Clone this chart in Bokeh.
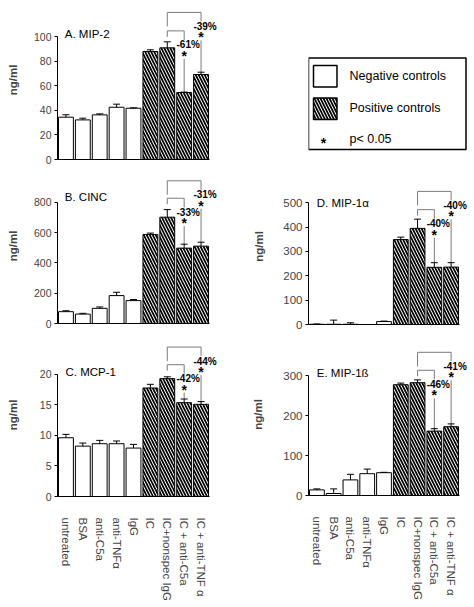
import numpy as np
from bokeh.plotting import figure
from bokeh.models import (Range1d, FixedTicker, Whisker, TeeHead, Label,
                          LabelSet, ColumnDataSource)
from bokeh.layouts import row, column
from bokeh.embed import file_html
from bokeh.resources import INLINE
from bokeh.core.properties import value

# ---------------- data ----------------
categories = ["untreated", "BSA", "anti-C5a", "anti-TNFα", "IgG", "IC",
              "IC+nonspec IgG", "IC + anti-C5a", "IC + anti-TNF α"]
positive = [False, False, False, False, False, True, True, True, True]

mip2 = [34.4, 32.2, 36.3, 42.5, 41.7, 87.8, 90.8, 54.5, 69.1]
mip2_err = [2.0, 1.4, 0.8, 2.5, 0.3, 1.4, 4.9, 0.3, 1.9]
mip2_pct = ["-61%", "-39%"]
mip2_brackets = [104.6, 119.6]

cinc = [78, 62, 100, 184, 151, 587, 701, 497, 510]
cinc_err = [6, 5, 9, 22, 7, 9, 50, 26, 26]
cinc_pct = ["-33%", "-31%"]
cinc_brackets = [826, 941]

mcp1 = [9.63, 8.26, 8.65, 8.65, 7.94, 17.79, 19.32, 15.38, 15.11]
mcp1_err = [0.55, 0.5, 0.55, 0.45, 0.6, 0.6, 0.3, 0.6, 0.45]
mcp1_pct = ["-42%", "-44%"]
mcp1_brackets = [21.6, 24.5]

mip1a = [1, 1, 1, 0, 12, 349, 395, 235, 236]
mip1a_err = [1, 17, 6, 0, 2, 10, 38, 19, 18]
mip1a_pct = ["-40%", "-40%"]
mip1a_brackets = [472, 547]

mip1b = [14, 5, 39, 54.5, 57, 277, 282, 161, 172]
mip1b_err = [2.5, 11.5, 14, 11.5, 1, 4, 7, 6, 7]
mip1b_pct = ["-46%", "-41%"]
mip1b_brackets = [313, 358]

legend_labels = ["Negative controls", "Positive controls", "p< 0.05"]

FONT = "Liberation Sans"
HATCH = dict(hatch_pattern="left_diagonal_line", hatch_color="black",
             hatch_scale=6, hatch_weight=1.7)


def make_panel(title, vals, errs, pcts, brackets, tick_max, tick_step, y_end,
               width, height, left, bars_w, bottom, show_x, tick_font,
               al_standoff, title_dx, title_dy):
    n = len(categories)
    x = np.arange(1, n + 1)
    frame_h = height - bottom
    frame_w = width - left
    pitch = bars_w / n
    x_end = 0.5 + frame_w / pitch
    k = y_end / frame_h          # data units per pixel
    p = figure(width=width, height=height, x_range=Range1d(0.5, x_end),
               y_range=Range1d(0, y_end), output_backend="svg",
               toolbar_location=None, min_border_left=left,
               min_border_right=0, min_border_top=0,
               min_border_bottom=bottom)
    p.outline_line_color = None
    p.grid.visible = False
    p.background_fill_color = "white"
    p.border_fill_color = "white"

    vals = np.array(vals, dtype=float)
    errs = np.array(errs, dtype=float)
    pos = np.array(positive)

    p.vbar(x=x[~pos], top=vals[~pos], width=0.88, bottom=0,
           fill_color="white", line_color="black", line_width=1)
    p.vbar(x=x[pos], top=vals[pos], width=0.88, bottom=0,
           fill_color="white", line_color="black", line_width=1, **HATCH)

    src = ColumnDataSource(dict(x=x, lower=vals, upper=vals + errs))
    w = Whisker(base="x", lower="lower", upper="upper", source=src,
                line_color="black", line_width=1, lower_head=None,
                upper_head=TeeHead(size=7, line_color="black", line_width=1))
    w.level = "overlay"
    p.add_layout(w)

    # significance brackets
    gray = "#7a7a7a"
    hs, hb = brackets
    p.line([x[6], x[6], x[7], x[7]], [hs - 6 * k, hs, hs, hs - 9 * k],
           line_color=gray, line_width=1)
    p.line([x[6], x[6], x[8], x[8]], [hb - 14 * k, hb, hb, hb - 9 * k],
           line_color=gray, line_width=1)
    tops = vals + errs
    p.segment(x0=[x[7], x[8]], y0=[hs - 28 * k, hb - 28 * k],
              x1=[x[7], x[8]], y1=[tops[7], tops[8]],
              line_color=gray, line_width=1)
    lsrc = ColumnDataSource(dict(x=[x[7], x[8]], y=[hs - 14 * k, hb - 14 * k],
                                 t=pcts))
    p.add_layout(LabelSet(x="x", y="y", text="t", source=lsrc, x_offset=4,
                          text_align="center", text_baseline="middle",
                          text_font=value(FONT), text_font_style="bold",
                          text_font_size="10px", text_color="black"))
    ssrc = ColumnDataSource(dict(x=[x[7], x[8]], y=[hs - 30 * k, hb - 30 * k],
                                 t=["*", "*"]))
    p.add_layout(LabelSet(x="x", y="y", text="t", source=ssrc,
                          text_align="center", text_baseline="alphabetic",
                          text_font=value(FONT), text_font_style="bold",
                          text_font_size="14px", text_color="black"))

    p.add_layout(Label(x=0.5 + title_dx / pitch, y=y_end - title_dy * k,
                       text=title, text_font=FONT, text_font_size="11.5px",
                       text_baseline="middle", text_align="left",
                       text_color="black"))

    # y axis
    yax = p.yaxis[0]
    yax.ticker = FixedTicker(ticks=list(np.arange(0, tick_max + 1e-9, tick_step)))
    yax.bounds = (0, tick_max)
    yax.axis_label = "ng/ml"
    yax.axis_label_text_font = FONT
    yax.axis_label_text_font_style = "bold"
    yax.axis_label_text_font_size = "11.5px"
    yax.axis_label_standoff = int(al_standoff)
    yax.major_label_text_font = FONT
    yax.major_label_text_font_size = tick_font
    yax.major_tick_out = 3
    yax.major_tick_in = 0
    yax.minor_tick_line_color = None
    yax.major_label_standoff = 3
    yax.axis_line_color = "black"

    xax = p.xaxis[0]
    xax.bounds = (0.5, n + 0.5)
    xax.major_tick_line_color = None
    xax.minor_tick_line_color = None
    xax.axis_line_color = "black"
    if show_x:
        xax.ticker = FixedTicker(ticks=list(x))
        xax.major_label_overrides = {int(i): c for i, c in zip(x, categories)}
        xax.major_label_orientation = "vertical"
        xax.major_label_text_font = FONT
        xax.major_label_text_font_size = "11.5px"
        xax.major_label_standoff = 15
    else:
        xax.ticker = FixedTicker(ticks=[])
        xax.major_label_standoff = 0
        xax.major_label_text_font_size = "1px"
    return p


LW, LL = 242, 57     # left column width / left border
RW, RL = 232, 66     # right column width / left border

pA = make_panel("A. MIP-2", mip2, mip2_err, mip2_pct, mip2_brackets, 100, 20,
                129.3, LW, 168, LL, 152, 9, False, "10.5px", 12, 7.3, 33.3)
pB = make_panel("B. CINC", cinc, cinc_err, cinc_pct, cinc_brackets, 800, 200,
                1022, LW, 165, LL, 152, 10, False, "10.5px", 12, 7.3, 28.7)
pC = make_panel("C. MCP-1", mcp1, mcp1_err, mcp1_pct, mcp1_brackets, 20, 5,
                26.72, LW, 274, LL, 152, 111, True, "10.5px", 18, 8, 38)
pD = make_panel("D. MIP-1α", mip1a, mip1a_err, mip1a_pct, mip1a_brackets, 500, 100,
                641, RW, 165, RL, 151, 9, False, "11.5px", 15, 8.3, 34.3)
pE = make_panel("E. MIP-1ß", mip1b, mip1b_err, mip1b_pct, mip1b_brackets, 300, 100,
                405, RW, 274, RL, 151, 112, True, "11.5px", 16, 8.3, 39.3)

# legend panel, drawn in the pixel space of its own frame
pL = figure(width=RW, height=168, x_range=Range1d(RL, RW), y_range=Range1d(159, 0),
            output_backend="svg", toolbar_location=None, min_border_left=RL,
            min_border_right=0, min_border_top=0, min_border_bottom=9)
pL.axis.visible = False
pL.grid.visible = False
pL.outline_line_color = None
pL.quad(left=[66], right=[223.5], top=[57.5], bottom=[149], fill_color=None,
        line_color="black", line_width=1.5)
pL.quad(left=[71], right=[94.5], top=[65], bottom=[86.5], fill_color="white",
        line_color="black", line_width=1.5)
pL.quad(left=[71], right=[94.5], top=[97.5], bottom=[119], fill_color="white",
        line_color="black", line_width=1.5, **HATCH)
pL.text(x=[107, 107, 107], y=[75.5, 107.5, 138.5], text=legend_labels,
        text_align="left", text_baseline="middle", text_font=value(FONT),
        text_font_size="12.5px", text_color="black")
pL.text(x=[81], y=[142], text=["*"], text_align="center",
        text_baseline="alphabetic", text_font=value(FONT),
        text_font_style="bold", text_font_size="14px", text_color="black")

layout = row(column(pA, pB, pC), column(pL, pD, pE))
open("out.html", "w").write(file_html(layout, INLINE))
